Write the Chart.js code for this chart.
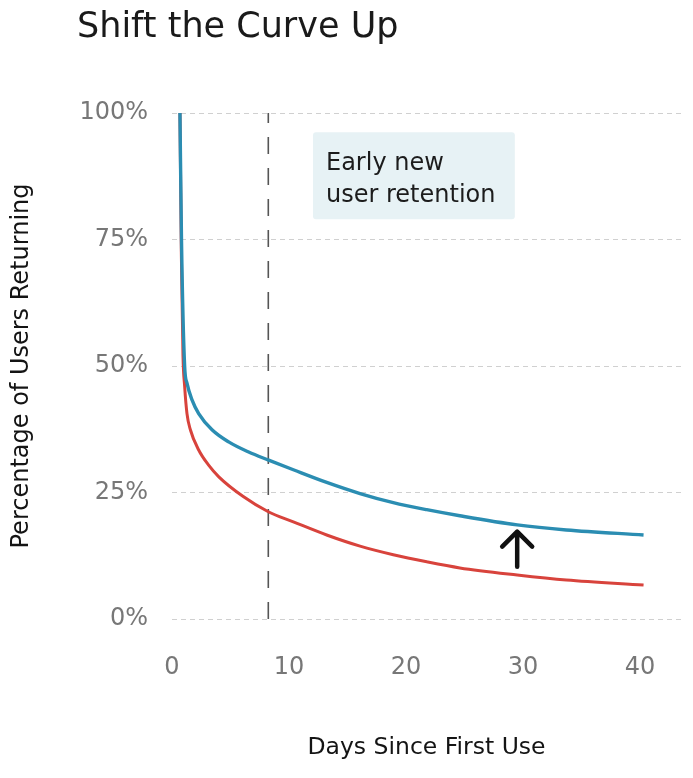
<!DOCTYPE html>
<html>
<head>
<meta charset="utf-8">
<script src="https://cdn.jsdelivr.net/npm/chart.js@4/dist/chart.umd.min.js"></script>
<style>
  html, body { margin: 0; padding: 0; background: #ffffff; }
  #wrap { width: 693px; height: 778px; position: relative; }
  canvas { display: block; }
</style>
</head>
<body>
<div id="wrap"><canvas id="c" width="693" height="778"></canvas></div>
<script>
// ---- data ----
const chartTitle = "Shift the Curve Up";
const xAxisTitle = "Days Since First Use";
const yAxisTitle = "Percentage of Users Returning";
const noteLines = ["Early new", "user retention"];

const xTicks = [0, 10, 20, 30, 40];
const yTicks = [0, 25, 50, 75, 100];

const blueDays = [0.68, 0.81, 1.08, 1.28, 1.71, 2.28, 3.42, 4.84, 6.55, 8.26, 10.37, 13.22, 16.07, 18.91, 21.77, 24.6, 29.5, 33.7, 40.3];
const blueValues = [100, 75, 50, 46.6, 43.3, 40.6, 37.4, 35.0, 33.0, 31.4, 29.5, 27.0, 24.8, 23.0, 21.6, 20.4, 18.6, 17.6, 16.6];

const redDays = [0.68, 0.8, 0.94, 1.08, 1.28, 1.57, 2.28, 3.13, 4.0, 6.09, 8.23, 10.37, 13.22, 16.07, 18.91, 21.77, 24.6, 29.5, 33.7, 40.3];
const redValues = [100, 72, 52, 46, 40.6, 37.4, 33.4, 30.4, 28.1, 24.2, 21.2, 19.2, 16.6, 14.4, 12.7, 11.3, 10.1, 8.7, 7.7, 6.7];

const markerDay = 8.23;          // dashed vertical line
const markerRange = [0, 100];
const noteBox = { x0: 12.05, x1: 29.3, y0: 96.2, y1: 79 };   // annotation box (data units)
const arrow = { day: 29.5, from: 10.34, to: 17.25 };          // "shift up" arrow (data units)

// ---- helpers ----
const pts = (xs, ys) => xs.map((x, i) => ({ x: x, y: ys[i] }));
const FONT = "'DejaVu Sans', 'Open Sans', sans-serif";

const overlayPlugin = {
  id: 'overlay',
  beforeDatasetsDraw(chart) {
    const { ctx, scales: { x, y } } = chart;
    const bx0 = x.getPixelForValue(noteBox.x0), bx1 = x.getPixelForValue(noteBox.x1);
    const by0 = y.getPixelForValue(noteBox.y0), by1 = y.getPixelForValue(noteBox.y1);
    ctx.save();
    ctx.fillStyle = '#e7f2f5';
    ctx.beginPath();
    if (ctx.roundRect) ctx.roundRect(bx0, by0, bx1 - bx0, by1 - by0, 3);
    else ctx.rect(bx0, by0, bx1 - bx0, by1 - by0);
    ctx.fill();
    ctx.fillStyle = '#1c1c1c';
    ctx.font = "24px " + FONT;
    ctx.textBaseline = 'alphabetic';
    ctx.textAlign = 'left';
    ctx.fillText(noteLines[0], bx0 + 13, by0 + 38);
    ctx.fillText(noteLines[1], bx0 + 13, by0 + 70);
    ctx.restore();
  },
  afterDatasetsDraw(chart) {
    const { ctx, scales: { x, y } } = chart;
    const ax = x.getPixelForValue(arrow.day);
    const ay0 = y.getPixelForValue(arrow.from);
    const ay1 = y.getPixelForValue(arrow.to);
    ctx.save();
    ctx.strokeStyle = '#111111';
    ctx.lineWidth = 4.5;
    ctx.lineCap = 'round';
    ctx.lineJoin = 'round';
    ctx.beginPath();
    ctx.moveTo(ax, ay0);
    ctx.lineTo(ax, ay1 + 2);
    ctx.moveTo(ax - 15, ay1 + 15);
    ctx.lineTo(ax, ay1);
    ctx.lineTo(ax + 15, ay1 + 15);
    ctx.stroke();
    ctx.restore();
  },
  afterDraw(chart) {
    const { ctx } = chart;
    ctx.save();
    ctx.fillStyle = '#1a1a1a';
    ctx.font = "35px " + FONT;
    ctx.textBaseline = 'alphabetic';
    ctx.textAlign = 'left';
    ctx.fillText(chartTitle, 77, 37);
    ctx.restore();
  }
};

new Chart(document.getElementById('c'), {
  type: 'line',
  data: {
    datasets: [
      {
        label: 'Improved retention',
        data: pts(blueDays, blueValues),
        borderColor: '#2b8db2',
        borderWidth: 3.4,
        pointRadius: 0,
        cubicInterpolationMode: 'monotone',
        fill: false
      },
      {
        label: 'Current retention',
        data: pts(redDays, redValues),
        borderColor: '#d8433c',
        borderWidth: 3,
        pointRadius: 0,
        cubicInterpolationMode: 'monotone',
        fill: false
      },
      {
        label: 'Marker',
        data: pts([markerDay, markerDay], markerRange),
        borderColor: '#555555',
        borderWidth: 1.6,
        borderDash: [17, 14],
        pointRadius: 0,
        fill: false
      }
    ]
  },
  options: {
    responsive: false,
    animation: false,
    events: [],
    layout: { padding: { top: 113, right: 12, bottom: 0, left: 0 } },
    plugins: {
      legend: { display: false },
      title: { display: false },
      tooltip: { enabled: false }
    },
    scales: {
      x: {
        type: 'linear',
        min: 0,
        max: 43.5,
        afterFit(scale) { scale.height = 159; },
        afterBuildTicks(scale) { scale.ticks = xTicks.map(v => ({ value: v })); },
        border: { display: false },
        grid: { display: false, drawTicks: false },
        ticks: {
          color: '#777777',
          font: { family: FONT, size: 24 },
          padding: 34,
          maxRotation: 0
        },
        title: {
          display: true,
          text: xAxisTitle,
          color: '#141414',
          font: { family: FONT, size: 23.5 },
          padding: { top: 0, bottom: 16 }
        }
      },
      y: {
        type: 'linear',
        min: 0,
        max: 100,
        afterFit(scale) { scale.width = 172; },
        afterBuildTicks(scale) { scale.ticks = yTicks.map(v => ({ value: v })); },
        border: { display: false, dash: [5, 4] },
        grid: {
          color: '#d0d0d0',
          lineWidth: 1,
          drawTicks: false
        },
        ticks: {
          color: '#777777',
          font: { family: FONT, size: 24 },
          padding: 24,
          callback: v => v + '%'
        },
        title: {
          display: true,
          text: yAxisTitle,
          color: '#141414',
          font: { family: FONT, size: 24 },
          padding: { top: 7, bottom: 0 }
        }
      }
    }
  },
  plugins: [overlayPlugin]
});
</script>
</body>
</html>
